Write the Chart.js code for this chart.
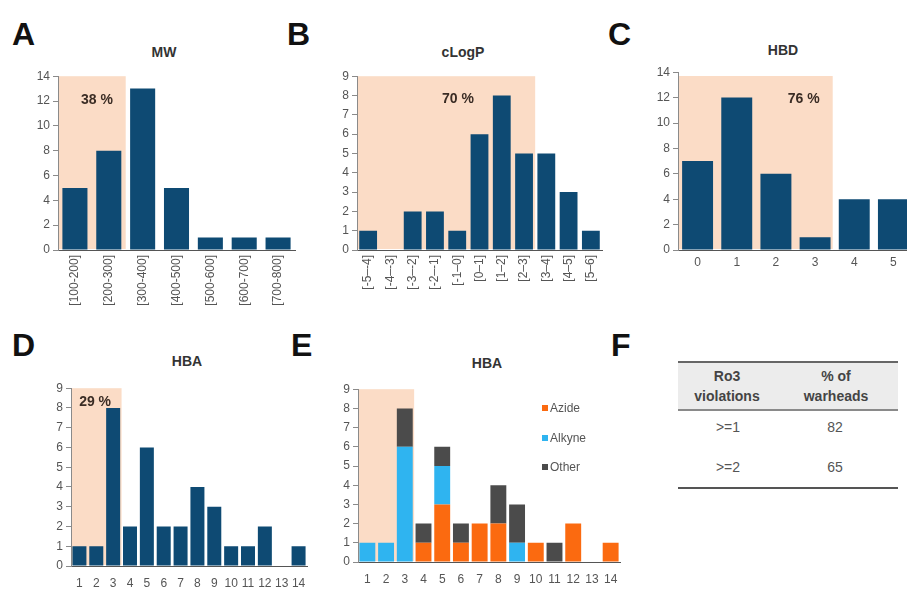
<!DOCTYPE html>
<html><head><meta charset="utf-8">
<script src="https://cdn.jsdelivr.net/npm/chart.js@4.4.0/dist/chart.umd.min.js"></script>
<style>
html,body{margin:0;padding:0;background:#fff;}
body{width:907px;height:590px;overflow:hidden;position:relative;font-family:"Liberation Sans",Arial,sans-serif;}
canvas{position:absolute;}
.letter{position:absolute;font-weight:bold;font-size:32px;color:#111;line-height:1;}
.ttl{position:absolute;font-weight:bold;font-size:14px;color:#333;transform:translate(-50%,-50%);white-space:nowrap;}
.lg{position:absolute;font-size:12px;color:#555;line-height:1;white-space:nowrap;}
.lg i{display:inline-block;width:6px;height:6px;margin-right:2px;vertical-align:1px;}
.tb{position:absolute;text-align:center;transform:translateX(-50%);white-space:nowrap;line-height:20px;}
.th{font-size:14px;font-weight:bold;color:#444;}
.td{font-size:14px;color:#555;}
.hl{position:absolute;left:678px;width:220px;}
</style>
</head><body>
<div class="letter" style="left:12px;top:18px">A</div>
<div class="letter" style="left:287px;top:18px">B</div>
<div class="letter" style="left:608px;top:18px">C</div>
<div class="letter" style="left:12px;top:329px">D</div>
<div class="letter" style="left:291px;top:329px">E</div>
<div class="letter" style="left:611px;top:329px">F</div>

<div class="ttl" style="left:164px;top:52px">MW</div>
<div class="ttl" style="left:463px;top:52px">cLogP</div>
<div class="ttl" style="left:783px;top:50px">HBD</div>
<div class="ttl" style="left:187px;top:361px">HBA</div>
<div class="ttl" style="left:487px;top:363px">HBA</div>

<canvas id="cA"></canvas>
<canvas id="cB"></canvas>
<canvas id="cC"></canvas>
<canvas id="cD"></canvas>
<canvas id="cE"></canvas>

<div id="legendE"></div>

<div class="hl" style="top:361px;height:2px;background:#666"></div>
<div class="hl" style="top:363px;height:46px;background:#ececec"></div>
<div class="hl" style="top:409px;height:2px;background:#8a8a8a"></div>
<div class="hl" style="top:487px;height:2px;background:#555"></div>
<div class="tb th" style="left:727px;top:366px">Ro3<br>violations</div>
<div class="tb th" style="left:836px;top:366px">% of<br>warheads</div>
<div class="tb td" style="left:728px;top:417px">&gt;=1</div>
<div class="tb td" style="left:835px;top:417px">82</div>
<div class="tb td" style="left:728px;top:457px">&gt;=2</div>
<div class="tb td" style="left:835px;top:457px">65</div>

<script>
// ---- data ----
const mwLabels = ['[100-200]','[200-300]','[300-400]','[400-500]','[500-600]','[600-700]','[700-800]'];
const mwCounts = [5,8,13,5,1,1,1];
const clogpLabels = ['[-5–-4]','[-4–-3]','[-3–-2]','[-2–-1]','[-1–0]','[0–1]','[1–2]','[2–3]','[3–4]','[4–5]','[5–6]'];
const clogpCounts = [1,0,2,2,1,6,8,5,5,3,1];
const hbdLabels = ['0','1','2','3','4','5'];
const hbdCounts = [7,12,6,1,4,4];
const hbaLabels = ['1','2','3','4','5','6','7','8','9','10','11','12','13','14'];
const hbaCounts = [1,1,8,2,6,2,2,4,3,1,1,2,0,1];
const hbaAzide  = [0,0,0,1,3,1,2,2,0,1,0,2,0,1];
const hbaAlkyne = [1,1,6,0,2,0,0,0,1,0,0,0,0,0];
const hbaOther  = [0,0,2,1,1,1,0,2,2,0,1,0,0,0];
const seriesNames = ['Azide','Alkyne','Other'];
const pctA = '38 %', pctB = '70 %', pctC = '76 %', pctD = '29 %';

// ---- styles ----
const NAVY = '#0e4a73', SHADE = '#fbdcc6';
const COLS = ['#fb6a10', '#2fb4f0', '#4b4b4b'];
const FONT = {family:'"Liberation Sans", Arial, sans-serif', size:12};

const shadePlugin = {
  id:'shade',
  beforeDatasetsDraw(chart, args, o){
    if (o.end == null) return;
    const {ctx, chartArea:a, scales:{x,y}} = chart;
    const x0 = a.left + 1, x1 = x.getPixelForValue(o.end), y0 = y.getPixelForValue(o.top);
    ctx.save(); ctx.fillStyle = SHADE; ctx.fillRect(x0, y0, x1 - x0, a.bottom - 1 - y0); ctx.restore();
  },
  afterDatasetsDraw(chart, args, o){
    if (!o.text) return;
    const {ctx, scales:{x,y}} = chart;
    ctx.save(); ctx.fillStyle = '#3a2c24'; ctx.font = 'bold 14px "Liberation Sans", Arial, sans-serif';
    ctx.textAlign = 'center'; ctx.textBaseline = 'middle';
    ctx.fillText(o.text, x.getPixelForValue(o.tx), y.getPixelForValue(o.ty)); ctx.restore();
  }
};

function make(id, g, labels, datasets, yMax, yStep, xOpts, shade, barPct, stacked){
  const cv = document.getElementById(id);
  const W = g.yW + g.w + g.pr, H = g.pt + g.h + g.xH;
  cv.width = W; cv.height = H;
  cv.style.left = (g.left - g.yW) + 'px'; cv.style.top = (g.top - g.pt) + 'px';
  cv.style.width = W + 'px'; cv.style.height = H + 'px';
  new Chart(cv, {
    type:'bar',
    data:{labels, datasets: datasets.map(d => Object.assign({barPercentage:barPct, categoryPercentage:1, borderWidth:0}, d))},
    options:{
      responsive:false, animation:false, devicePixelRatio:1,
      layout:{padding:{top:g.pt, right:g.pr, left:0, bottom:0}},
      plugins:{legend:{display:false}, tooltip:{enabled:false}, title:{display:false}, shade},
      scales:{
        x:{stacked:!!stacked, grid:{display:false, drawTicks:!!xOpts.ticks, tickLength:xOpts.tl||8},
           border:{display:true, color:'#555', width:1},
           ticks:{color:'#555', font:FONT, autoSkip:false, minRotation:xOpts.rot, maxRotation:xOpts.rot, padding:xOpts.pad},
           afterFit:s=>{s.height = g.xH;}},
        y:{stacked:!!stacked, min:0, max:yMax,
           grid:{display:true, drawOnChartArea:false, drawTicks:true, tickLength:5, color:'#8a8a8a'},
           border:{display:true, color:'#8a8a8a', width:1},
           ticks:{stepSize:yStep, color:'#555', font:FONT, padding:3},
           afterFit:s=>{s.width = g.yW;}}
      }
    },
    plugins:[shadePlugin]
  });
}

make('cA', {left:58, top:76, w:237, h:174, yW:40, xH:60, pt:10, pr:10}, mwLabels,
  [{data:mwCounts, backgroundColor:NAVY}], 14, 2, {rot:90, pad:5},
  {end:1.5, top:14, text:pctA, tx:0.65, ty:12.1}, 0.74);

make('cB', {left:357, top:76, w:245, h:174, yW:40, xH:55, pt:10, pr:10}, clogpLabels,
  [{data:clogpCounts, backgroundColor:NAVY}], 9, 1, {rot:90, pad:5},
  {end:7.5, top:9, text:pctB, tx:4.03, ty:7.8}, 0.8);

make('cC', {left:678, top:72, w:235, h:178, yW:40, xH:25, pt:10, pr:10}, hbdLabels,
  [{data:hbdCounts, backgroundColor:NAVY}], 14, 2, {rot:0, pad:5},
  {end:3.45, top:13.7, text:pctC, tx:2.71, ty:11.9}, 0.79);

make('cD', {left:71, top:388, w:236, h:178, yW:40, xH:24, pt:10, pr:10}, hbaLabels,
  [{data:hbaCounts, backgroundColor:NAVY}], 9, 1, {rot:0, pad:2, ticks:true},
  {end:2.5, top:9, text:pctD, tx:0.93, ty:8.3}, 0.83);

make('cE', {left:358, top:389, w:262, h:173, yW:40, xH:28, pt:10, pr:10}, hbaLabels,
  [{label:seriesNames[0], data:hbaAzide, backgroundColor:COLS[0]},
   {label:seriesNames[1], data:hbaAlkyne, backgroundColor:COLS[1]},
   {label:seriesNames[2], data:hbaOther, backgroundColor:COLS[2]}], 9, 1, {rot:0, pad:2, ticks:true},
  {end:2.5, top:9}, 0.85, true);

// legend for E
const lg = document.getElementById('legendE');
seriesNames.forEach((n, i) => {
  const d = document.createElement('div');
  d.className = 'lg';
  d.style.left = '542px'; d.style.top = (402 + i * 29.5) + 'px';
  d.innerHTML = '<i style="background:' + COLS[i] + '"></i>' + n;
  lg.appendChild(d);
});
</script>
</body></html>
